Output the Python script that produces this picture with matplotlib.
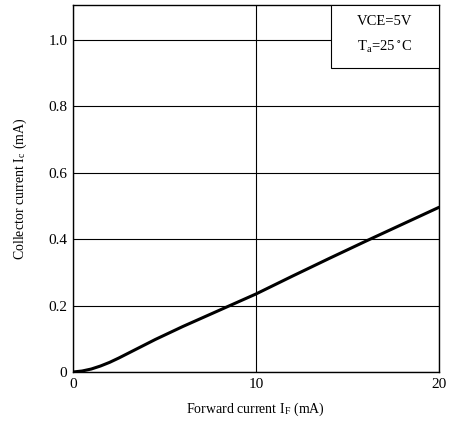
import matplotlib.pyplot as plt
from matplotlib.patches import Rectangle

# Collector current vs forward current (VCE=5V, Ta=25C)
forward_ma = [0, 0.5, 1, 1.5, 2, 2.5, 3, 3.5, 4, 4.5, 5, 6, 8, 10, 12, 14, 16, 18, 20]
collector_ma = [0, 0.003, 0.009, 0.018, 0.029, 0.042, 0.056, 0.07, 0.084, 0.098, 0.111,
                0.137, 0.186, 0.235, 0.289, 0.342, 0.394, 0.445, 0.496]
x_ticks = [0, 10, 20]
y_ticks = [0, 0.2, 0.4, 0.6, 0.8, 1.0]
y_tick_labels = ["0", "0.2", "0.4", "0.6", "0.8", "1.0"]

plt.rcParams['font.family'] = ['Liberation Serif', 'DejaVu Serif']
plt.rcParams['mathtext.fontset'] = 'stix'

fig = plt.figure(figsize=(4.55, 4.25), dpi=100)
ax = fig.add_axes([0.1604, 0.1247, 0.8044, 0.8633])

ax.plot(forward_ma, collector_ma, color='black', lw=2.2, solid_capstyle='round',
        solid_joinstyle='round')

ax.set_xlim(0, 20)
ax.set_ylim(0, 1.105)
ax.set_xticks(x_ticks)
ax.set_yticks(y_ticks)
ax.set_yticklabels(y_tick_labels)
ax.tick_params(length=0, labelsize=11, pad=4)
ax.grid(True, color='black', lw=0.8)
for s in ax.spines.values():
    s.set_linewidth(1.0)

ax.set_xlabel("Forward current I$_\\mathregular{F}$ (mA)", fontsize=10, labelpad=7)
ax.set_ylabel("Collector current I$_\\mathregular{c}$ (mA)", fontsize=10, labelpad=14)

ax.add_patch(Rectangle((0.705, 0.828), 0.295, 0.172, transform=ax.transAxes,
                       facecolor='white', edgecolor='black', lw=0.8, zorder=3))
ax.text(0.852, 0.955, "VCE=5V", transform=ax.transAxes, ha='center', va='center',
        fontsize=10.5, zorder=4)
ax.text(0.852, 0.885, "T$_\\mathregular{a}$=25$^\\circ$C", transform=ax.transAxes,
        ha='center', va='center', fontsize=10.5, zorder=4)

fig.savefig("out.png", dpi=100)
